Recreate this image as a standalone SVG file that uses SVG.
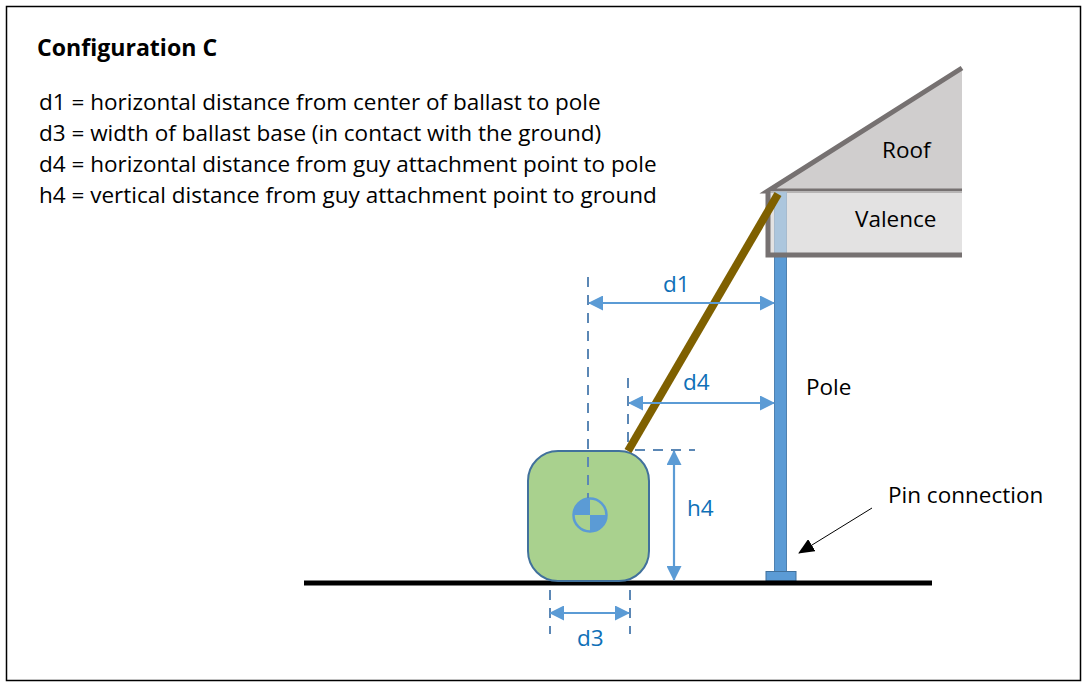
<svg xmlns="http://www.w3.org/2000/svg" width="1087" height="685" viewBox="0 0 1087 685">
<style>
text{font-family:"Open Sans","Noto Sans","Liberation Sans",sans-serif;font-size:22.500px;fill:#000}
.b{fill:#0f70b7}
.dim{fill:none;stroke:#5b9bd5;stroke-width:2.200}
.dash{fill:none;stroke:#5b87b5;stroke-width:2;stroke-dasharray:10 8}
</style>
<defs>
<marker id="a" markerUnits="userSpaceOnUse" markerWidth="15" markerHeight="15" refX="14" refY="7.500" orient="auto-start-reverse"><path d="M0 0L15 7.500L0 15Z" fill="#5b9bd5"/></marker>
<marker id="k" markerUnits="userSpaceOnUse" markerWidth="16" markerHeight="14" refX="15" refY="7" orient="auto"><path d="M0 0L16 7L0 14Z" fill="#000"/></marker>
</defs>
<rect width="1087" height="685" fill="#fff"/>
<rect x="6.500" y="6.500" width="1074" height="674" fill="none" stroke="#000" stroke-width="1.500"/>
<g id="title"><text x="37" y="56" style="font-weight:700;font-size:23.100px">Configuration C</text></g>
<g id="legend">
<text x="39" y="110">d1 = horizontal distance from center of ballast to pole</text>
<text x="39" y="141">d3 = width of ballast base (in contact with the ground)</text>
<text x="39" y="172">d4 = horizontal distance from guy attachment point to pole</text>
<text x="39" y="203">h4 = vertical distance from guy attachment point to ground</text>
</g>
<g id="roof">
<path d="M771 190L962 68V190Z" fill="#d0cece"/>
<path d="M962 68L768 191H962" fill="none" stroke="#767171" stroke-width="5"/>
<text x="882" y="158">Roof</text>
</g>
<g id="pole">
<rect x="774.500" y="192" width="12" height="381" fill="#5b9bd5" stroke="#4f81b0"/>
<rect x="766" y="571.500" width="30" height="9.500" fill="#5b9bd5" stroke="#41719c"/>
</g>
<g id="valence">
<path d="M768 191H962V255H768Z" fill="#e3e2e2" fill-opacity=".6"/>
<path d="M787 193H962V253H787ZM770 193H774V253H770Z" fill="#e3e2e2"/>
<path d="M962 255H768V191" fill="none" stroke="#767171" stroke-width="5"/>
<text x="855" y="227">Valence</text>
</g>
<g id="ground"><path d="M304 583H932" stroke="#000" stroke-width="5"/></g>
<g id="ballast">
<rect x="528" y="451" width="121" height="130" rx="30" ry="30" fill="#a9d18e" stroke="#41719c" stroke-width="2"/>
<circle cx="590" cy="515" r="16.500" fill="#a9d18e" stroke="#5b9bd5" stroke-width="2.500"/>
<path d="M590 515V498.500A16.500 16.500 0 0 0 573.500 515ZM590 515V531.500A16.500 16.500 0 0 0 606.500 515Z" fill="#5b9bd5"/>
</g>
<g id="connectors">
<path class="dash" d="M628 378V450"/>
<path d="M628 451L778 194" stroke="#7f6000" stroke-width="8" fill="none"/>
<path class="dash" d="M588 277V498"/>
<path class="dash" d="M635 450H695"/>
<path class="dash" d="M550 590V634"/>
<path class="dash" d="M630 590V634"/>
<path class="dim" d="M589 303H774" marker-start="url(#a)" marker-end="url(#a)"/>
<path class="dim" d="M629 403H774" marker-start="url(#a)" marker-end="url(#a)"/>
<path class="dim" d="M674 451V580" marker-start="url(#a)" marker-end="url(#a)"/>
<path class="dim" d="M550 613H629" marker-start="url(#a)" marker-end="url(#a)"/>
<path d="M872 508L799 553" stroke="#000" stroke-width="1" fill="none" marker-end="url(#k)"/>
</g>
<g id="labels">
<text class="b" x="663" y="292">d1</text>
<text class="b" x="683" y="390">d4</text>
<text class="b" x="687" y="516">h4</text>
<text class="b" x="577" y="646">d3</text>
<text x="806" y="395">Pole</text>
<text x="888" y="503">Pin connection</text>
</g>
</svg>
